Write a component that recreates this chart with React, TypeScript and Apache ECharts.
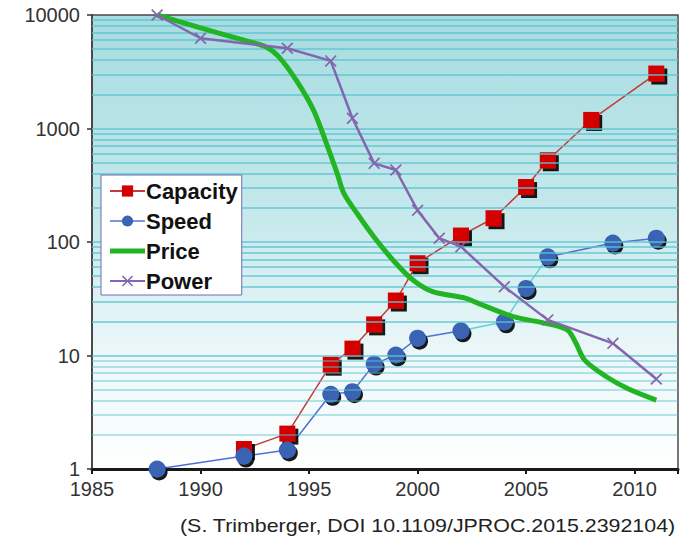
import React, { useEffect, useRef } from "react";
import * as echarts from "echarts";

const capacityYears = [1992, 1994, 1996, 1997, 1998, 1999, 2000, 2002, 2003.5, 2005, 2006, 2008, 2011];
const capacityValues = [1.5, 2.05, 8.3, 11.5, 18.8, 30.5, 65, 114, 162, 305, 525, 1190, 3050];

const speedYears = [1988, 1992, 1994, 1996, 1997, 1998, 1999, 2000, 2002, 2004, 2005, 2006, 2009, 2011];
const speedValues = [1.0, 1.3, 1.47, 4.55, 4.8, 8.4, 10.1, 14.2, 16.5, 19.8, 39, 74, 98, 108];

const priceYears = [1988, 1990, 1992, 1993, 1993.6, 1994.4, 1995.2, 1995.8, 1996.3, 1996.6, 1997.2, 1998.1, 1999, 1999.8, 2000.7, 2002.2, 2002.8, 2004.4, 2005.9, 2006.9, 2007.3, 2007.7, 2008.7, 2009.7, 2011];
const priceValues = [10000, 7700, 6000, 5260, 4300, 2680, 1460, 740, 400, 270, 180, 104, 65, 46, 36.5, 32, 28.8, 22, 19.2, 16.8, 12.8, 9.1, 6.5, 5.1, 4.05];

const powerYears = [1988, 1990, 1994, 1996, 1997, 1998, 1999, 2000, 2001, 2002, 2004, 2006, 2009, 2011];
const powerValues = [10000, 6240, 5090, 3940, 1230, 493, 431, 190, 108, 91, 40.4, 20.6, 12.8, 6.2];

const xTickYears = [1985, 1990, 1995, 2000, 2005, 2010];
const yTickLabels = ["1", "10", "100", "1000", "10000"];

const caption = "(S. Trimberger, DOI 10.1109/JPROC.2015.2392104)";

const FONT = "'Liberation Sans', Arial, Helvetica, sans-serif";
const X_PATH =
  "path://M0,1.2 L1.2,0 L6,4.8 L10.8,0 L12,1.2 L7.2,6 L12,10.8 L10.8,12 L6,7.2 L1.2,12 L0,10.8 L4.8,6 Z";
const BAR_ICON = "path://M0,0 L35,0 L35,5 L0,5 Z";

export default function App() {
  const ref = useRef<HTMLDivElement>(null);

  useEffect(() => {
    const chart = echarts.init(ref.current!, null, { renderer: "svg" });
    const pair = (xs: number[], ys: number[]) => xs.map((x, i) => [x, ys[i]]);
    const speedData = pair(speedYears, speedValues);
    const speedSeg1 = speedData.filter((d) => d[0] <= 2002);
    const speedSeg2 = speedData.filter((d) => d[0] >= 2002 && d[0] <= 2006);
    const speedSeg3 = speedData.filter((d) => d[0] >= 2006);

    const gridValues: number[] = [];
    for (let e = 0; e < 4; e++) {
      for (let m = 1; m <= 9; m++) {
        const v = m * Math.pow(10, e);
        if (v > 1) gridValues.push(v);
      }
    }

    const option: any = {
      animation: false,
      grid: {
        left: 92,
        top: 15,
        right: 17,
        bottom: 70,
        show: true,
        borderColor: "#4a4a4a",
        borderWidth: 1.5,
        backgroundColor: new echarts.graphic.LinearGradient(0, 0, 0, 1, [
          { offset: 0, color: "#a6dce0" },
          { offset: 0.45, color: "#c6e9ec" },
          { offset: 0.72, color: "#e9f6f8" },
          { offset: 1, color: "#ffffff" },
        ]),
      },
      xAxis: {
        type: "value",
        min: 1985,
        max: 2012,
        interval: 5,
        splitLine: { show: false },
        axisLine: { show: true, onZero: false, lineStyle: { color: "#1a1a1a", width: 3 } },
        axisTick: { show: true, length: 5, lineStyle: { color: "#1a1a1a", width: 2 } },
        axisLabel: {
          margin: 10,
          fontSize: 20,
          fontFamily: FONT,
          color: "#333",
          formatter: (v: number) => (xTickYears.includes(v) ? String(v) : ""),
        },
      },
      yAxis: {
        type: "log",
        logBase: 10,
        min: 1,
        max: 10000,
        splitLine: { show: false },
        axisLine: { show: true, lineStyle: { color: "#4a4a4a", width: 2 } },
        axisTick: { show: true, length: 5, lineStyle: { color: "#333", width: 1.5 } },
        axisLabel: {
          margin: 12,
          fontSize: 20,
          fontFamily: FONT,
          color: "#333",
          formatter: (v: number) => yTickLabels[Math.round(Math.log10(v))] ?? "",
        },
      },
      legend: {
        orient: "vertical",
        left: 101,
        top: 175,
        z: 20,
        itemWidth: 35,
        itemHeight: 14,
        itemGap: 8,
        padding: [5, 4, 3, 8],
        backgroundColor: "#ffffff",
        borderColor: "#6f6fb0",
        borderWidth: 1,
        borderRadius: 0,
        textStyle: {
          fontSize: 22,
          fontWeight: "bold",
          fontFamily: FONT,
          color: "#111",
          lineHeight: 22,
          padding: [0, 0, 0, -4],
        },
        data: [
          "Capacity",
          { name: "Speed", lineStyle: { color: "#4f73d8", width: 1.5, opacity: 1 } },
          { name: "Price", icon: BAR_ICON, itemStyle: { color: "#22b422" } },
          "Power",
        ],
      },
      graphic: [
        {
          type: "text",
          x: 180,
          y: 525,
          scaleX: 1.126,
          style: {
            text: caption,
            fontSize: 19,
            fontFamily: FONT,
            fill: "#222",
            textAlign: "left",
            textVerticalAlign: "middle",
          },
        },
      ],
      series: [
        {
          name: "gridlines",
          type: "line",
          data: [],
          z: 1,
          silent: true,
          markLine: {
            silent: true,
            symbol: ["none", "none"],
            label: { show: false },
            lineStyle: { color: "#5cc3d1", width: 1.5, type: "solid", opacity: 0.9 },
            emphasis: { disabled: true },
            data: gridValues.map((v) => ({
              yAxis: v,
              lineStyle: { opacity: v < 10 ? 0.6 : 0.9 },
            })),
          },
        },
        {
          name: "speedLine1",
          type: "line",
          data: speedSeg1,
          z: 3,
          showSymbol: false,
          silent: true,
          lineStyle: { color: "#4f6fd6", width: 1.5 },
        },
        {
          name: "speedLine2",
          type: "line",
          data: speedSeg2,
          z: 3,
          showSymbol: false,
          silent: true,
          lineStyle: { color: "#5fd2d6", width: 1.5 },
        },
        {
          name: "speedLine3",
          type: "line",
          data: speedSeg3,
          z: 3,
          showSymbol: false,
          silent: true,
          lineStyle: { color: "#4f6fd6", width: 1.5 },
        },
        {
          name: "Capacity",
          type: "line",
          data: pair(capacityYears, capacityValues),
          z: 4,
          symbol: "rect",
          symbolSize: 16,
          lineStyle: { color: "#c43a3a", width: 1.5 },
          itemStyle: {
            color: "#d40000",
            shadowColor: "rgba(0,0,0,0.9)",
            shadowOffsetX: 3,
            shadowOffsetY: 3,
            shadowBlur: 1,
          },
        },
        {
          name: "Speed",
          type: "line",
          data: speedData,
          z: 4,
          symbol: "circle",
          symbolSize: 17,
          lineStyle: { color: "#4f73d8", width: 1.5, opacity: 0 },
          itemStyle: {
            color: "#3b64b4",
            shadowColor: "rgba(0,0,0,0.9)",
            shadowOffsetX: 2,
            shadowOffsetY: 3,
            shadowBlur: 1,
          },
        },
        {
          name: "Price",
          type: "line",
          data: pair(priceYears, priceValues),
          z: 5,
          smooth: 0.3,
          symbol: "none",
          showSymbol: false,
          lineStyle: { color: "#22b422", width: 5 },
          itemStyle: { color: "#22b422" },
        },
        {
          name: "Power",
          type: "line",
          data: pair(powerYears, powerValues),
          z: 6,
          symbol: X_PATH,
          symbolSize: 12,
          lineStyle: { color: "#8466ae", width: 2.5 },
          itemStyle: { color: "#8466ae" },
        },
      ],
    };

    chart.setOption(option);
    return () => chart.dispose();
  }, []);

  return (
    <div
      ref={ref}
      style={{ position: "absolute", left: 0, top: 0, width: 695, height: 539, background: "#fff" }}
    />
  );
}
